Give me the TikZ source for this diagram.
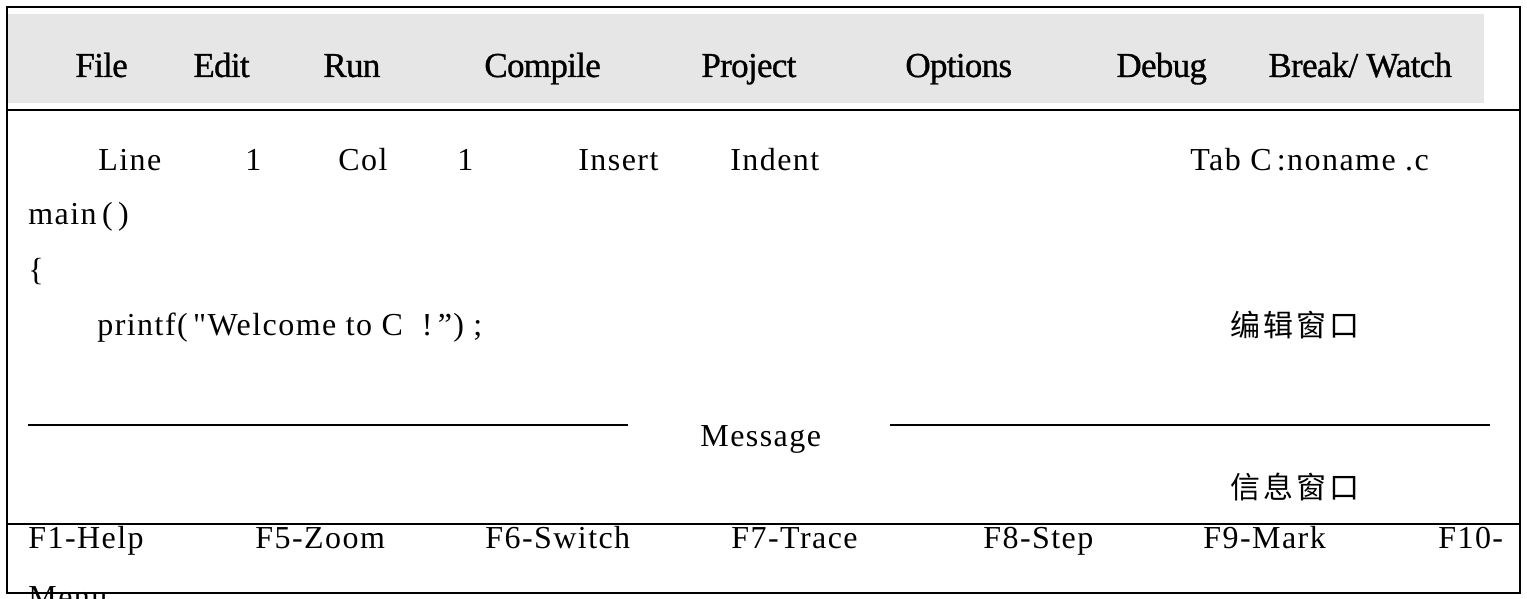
\documentclass[tikz,border=0pt]{standalone}
\usepackage{fontspec}
\setmainfont{Liberation Serif}
\newfontfamily\menufont[FakeBold=0.9,LetterSpace=-2]{Liberation Serif}
\newfontfamily\wide[LetterSpace=4.5]{Liberation Serif}
\newfontfamily\cjk[LetterSpace=10]{Noto Sans CJK SC}
\definecolor{menugray}{HTML}{E6E6E6}
\begin{document}
\begin{tikzpicture}[x=0.5pt,y=-0.5pt,
  frame/.style={draw=black,line width=1pt},
  menuitem/.style={anchor=base west,inner sep=0pt,font=\menufont\fontsize{17.5}{20}\selectfont},
  screentext/.style={anchor=base west,inner sep=0pt,font=\wide\fontsize{16}{19}\selectfont},
  label/.style={anchor=center,inner sep=0pt,font=\cjk\fontsize{15}{18}\selectfont}]
\clip (0,0) rectangle (1527,599);
\fill[white] (0,0) rectangle (1527,599);

% menu bar
\fill[menugray] (8,14) rectangle (1484,103);
\node[menuitem] (file)    at (75,77)   {File};
\node[menuitem] (edit)    at (193,77)  {Edit};
\node[menuitem] (run)     at (323,77)  {Run};
\node[menuitem] (compile) at (484,77)  {Compile};
\node[menuitem] (project) at (701,77)  {Project};
\node[menuitem] (options) at (905,77)  {Options};
\node[menuitem] (debug)   at (1116,77) {Debug};
\node[menuitem] (break)   at (1268,77) {Break/ Watch};

% window frame and separators
\draw[frame] (7,7) rectangle (1520,593);
\draw[frame] (7,110) -- (1520,110);
\draw[frame] (7,524) -- (1520,524);

% status line of the editor
\node[screentext] (line)   at (98,170)   {Line};
\node[screentext] (lnum)   at (245,170)  {1};
\node[screentext] (col)    at (338,170)  {Col};
\node[screentext] (cnum)   at (457,170)  {1};
\node[screentext] (insert) at (578,170)  {Insert};
\node[screentext] (indent) at (730,170)  {Indent};
\node[screentext] (tab)    at (1190,170) {Tab C\,:noname\ .c};

% program text
\node[screentext] (main)   at (28,225)  {main\,(\,)};
\node[screentext] (brace)  at (28,280)  {\{};
\node[screentext] (printf) at (97,335)  {printf(\,"Welcome to C\ \ !\,”)\ ;};
\node[label] (editwin) at (1295,325) {编辑窗口};

% message window
\node[screentext] (msg) at (700,446) {Message};
\draw[frame] (28,425) -- (628,425);
\draw[frame] (890,425) -- (1490,425);
\node[label] (msgwin) at (1295,487) {信息窗口};

% function key line
\node[screentext] (f1)  at (28,548)   {F1-Help};
\node[screentext] (f5)  at (255,548)  {F5-Zoom};
\node[screentext] (f6)  at (485,548)  {F6-Switch};
\node[screentext] (f7)  at (731,548)  {F7-Trace};
\node[screentext] (f8)  at (983,548)  {F8-Step};
\node[screentext] (f9)  at (1203,548) {F9-Mark};
\node[screentext] (f10) at (1438,548) {F10-};
\node[screentext] (menu) at (28,607) {Menu};
\end{tikzpicture}
\end{document}
